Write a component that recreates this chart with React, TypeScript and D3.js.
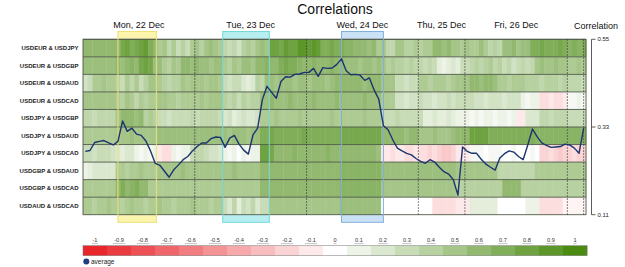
import React from "react";
import * as d3 from "d3";

// Currency pairs, one heatmap row each
const pairs = [
  "USDEUR & USDJPY",
  "USDEUR & USDGBP",
  "USDEUR & USDAUD",
  "USDEUR & USDCAD",
  "USDJPY & USDGBP",
  "USDJPY & USDAUD",
  "USDJPY & USDCAD",
  "USDGBP & USDAUD",
  "USDGBP & USDCAD",
  "USDAUD & USDCAD",
];

// Trading days, in hourly slots
const dayLabels = ["Mon, 22 Dec", "Tue, 23 Dec", "Wed, 24 Dec", "Thu, 25 Dec", "Fri, 26 Dec"];
const dayStart = [0, 24, 48, 72, 82];
const dayEnd = [24, 48, 72, 82, 104];
const slotCount = 108;

// Highlighted sessions (slot range)
const sessionStart = [7.5, 30, 55.5];
const sessionEnd = [15.75, 40, 64.5];

// Hourly correlations per pair
const eurJpy = [
  0.6, 0.6, 0.6, 0.6, 0.6, 0.6, 0.6, 0.6, 0.75, 0.8, 0.7, 0.75, 0.8, 0.85, 0.7, 0.6, 0.45, 0.5,
  0.35, 0.45, 0.3, 0.4, 0.3, 0.45, 0.5, 0.4, 0.5, 0.55, 0.5, 0.45, 0.35, 0.3, 0.35, 0.25, 0.4, 0.45,
  0.4, 0.5, 0.55, 0.5, 0.8, 0.8, 0.75, 0.85, 0.8, 0.8, 0.9, 0.9, 0.85, 0.9, 0.85, 0.7, 0.7, 0.75,
  0.7, 0.7, 0.65, 0.65, 0.6, 0.6, 0.6, 0.55, 0.6, 0.45, 0.5, 0.35, 0.35, 0.5, 0.5, 0.4, 0.4, 0.45,
  0.4, 0.45, 0.45, 0.6, 0.6, 0.55, 0.6, 0.5, 0.5, 0.45, 0.5, 0.45, 0.45, 0.55, 0.45, 0.35, 0.4, 0.35,
  0.55, 0.55, 0.6, 0.5, 0.55, 0.55, 0.7, 0.7, 0.75, 0.7, 0.7, 0.7, 0.75, 0.7, 0.65, 0.7, 0.65, 0.7,
];
const eurGbp = [
  0.55, 0.55, 0.55, 0.55, 0.55, 0.55, 0.55, 0.6, 0.55, 0.6, 0.65, 0.6, 0.75, 0.8, 0.75, 0.55, 0.55, 0.45,
  0.4, 0.5, 0.45, 0.6, 0.6, 0.55, 0.6, 0.55, 0.55, 0.5, 0.55, 0.55, 0.45, 0.4, 0.5, 0.45, 0.55, 0.55,
  0.5, 0.6, 0.6, 0.65, 0.6, 0.6, 0.7, 0.75, 0.7, 0.7, 0.65, 0.6, 0.6, 0.65, 0.6, 0.6, 0.6, 0.65,
  0.6, 0.6, 0.55, 0.55, 0.55, 0.5, 0.55, 0.55, 0.5, 0.55, 0.5, 0.4, 0.45, 0.4, 0.4, 0.35, 0.4, 0.35,
  0.35, 0.3, 0.35, 0.3, 0.15, 0.1, 0.15, 0.2, 0.15, 0.3, 0.3, 0.35, 0.4, 0.35, 0.4, 0.45, 0.35, 0.4,
  0.3, 0.35, 0.25, 0.3, 0.35, 0.3, 0.35, 0.5, 0.55, 0.5, 0.5, 0.55, 0.5, 0.5, 0.45, 0.45, 0.5, 0.45,
];
const eurAud = [
  0.25, 0.3, 0.45, 0.45, 0.5, 0.45, 0.45, 0.4, 0.3, 0.45, 0.35, 0.45, 0.3, 0.4, 0.5, 0.5, 0.45, 0.4,
  0.35, 0.4, 0.4, 0.5, 0.45, 0.5, 0.5, 0.5, 0.45, 0.5, 0.5, 0.45, 0.3, 0.25, 0.3, 0.3, 0.2, 0.15,
  0.2, 0.4, 0.35, 0.55, 0.55, 0.5, 0.55, 0.55, 0.55, 0.5, 0.55, 0.55, 0.5, 0.55, 0.55, 0.55, 0.5, 0.55,
  0.6, 0.6, 0.6, 0.6, 0.6, 0.6, 0.55, 0.6, 0.6, 0.6, 0.5, 0.5, 0.5, 0.3, 0.3, 0.25, 0.3, 0.3,
  0.45, 0.45, 0.4, 0.45, 0.45, 0.45, 0.4, 0.45, 0.5, 0.5, 0.5, 0.6, 0.6, 0.55, 0.6, 0.6, 0.55, 0.45,
  0.45, 0.4, 0.45, 0.45, 0.45, 0.4, 0.4, 0.4, 0.35, 0.4, 0.4, 0.4, 0.35, 0.4, 0.35, 0.35, 0.35, 0.3,
];
const eurCad = [
  0.5, 0.5, 0.5, 0.5, 0.5, 0.5, 0.5, 0.45, 0.4, 0.5, 0.45, 0.35, 0.45, 0.4, 0.45, 0.45, 0.5, 0.5,
  0.45, 0.45, 0.4, 0.45, 0.45, 0.45, 0.45, 0.5, 0.45, 0.5, 0.5, 0.5, 0.4, 0.35, 0.4, 0.3, 0.4, 0.35,
  0.4, 0.4, 0.55, 0.55, 0.6, 0.55, 0.55, 0.55, 0.6, 0.55, 0.55, 0.55, 0.55, 0.6, 0.55, 0.55, 0.55, 0.55,
  0.6, 0.55, 0.55, 0.55, 0.55, 0.55, 0.6, 0.55, 0.55, 0.55, 0.45, 0.45, 0.45, 0.25, 0.25, 0.2, 0.25, 0.25,
  0.3, 0.25, 0.25, 0.2, 0.25, 0.25, 0.3, 0.25, 0.3, 0.3, 0.3, 0.3, 0.25, 0.25, 0.2, 0.25, 0.25, 0.25,
  0.2, 0.25, 0.25, 0.25, 0.1, 0.05, 0.1, 0.1, -0.15, -0.15, -0.1, -0.15, -0.15, -0.1, 0.05, 0.05, 0.1, 0.05,
];
const jpyGbp = [
  0.35, 0.35, 0.3, 0.35, 0.35, 0.35, 0.35, 0.5, 0.6, 0.6, 0.6, 0.55, 0.6, 0.4, 0.45, 0.4, 0.3, 0.3,
  0.25, 0.3, 0.3, 0.3, 0.3, 0.35, 0.3, 0.35, 0.35, 0.35, 0.35, 0.3, 0.2, 0.25, 0.15, 0.2, 0.25, 0.2,
  0.2, 0.25, 0.45, 0.45, 0.45, 0.5, 0.45, 0.45, 0.45, 0.45, 0.5, 0.45, 0.45, 0.45, 0.45, 0.45, 0.45, 0.5,
  0.45, 0.45, 0.45, 0.45, 0.45, 0.45, 0.5, 0.45, 0.45, 0.45, 0.3, 0.3, 0.3, 0.35, 0.3, 0.3, 0.3, 0.3,
  0.3, 0.15, 0.15, 0.2, 0.15, 0.15, 0.2, 0.15, 0.1, 0.1, 0.1, 0.05, 0.1, 0.05, 0.1, 0.1, 0.05, 0.1,
  0.1, 0.05, 0.1, -0.1, -0.1, 0.2, 0.2, 0.2, 0.35, 0.35, 0.3, 0.35, 0.35, 0.35, 0.3, 0.3, 0.3, 0.3,
];
const jpyAud = [
  0.45, 0.45, 0.45, 0.45, 0.45, 0.45, 0.45, 0.5, 0.5, 0.5, 0.55, 0.5, 0.5, 0.5, 0.5, 0.5, 0.55, 0.55,
  0.55, 0.55, 0.55, 0.55, 0.55, 0.55, 0.55, 0.55, 0.55, 0.55, 0.55, 0.55, 0.55, 0.5, 0.55, 0.55, 0.55, 0.5,
  0.55, 0.55, 0.7, 0.7, 0.75, 0.7, 0.7, 0.7, 0.7, 0.7, 0.7, 0.75, 0.7, 0.7, 0.7, 0.7, 0.7, 0.7,
  0.7, 0.75, 0.75, 0.75, 0.75, 0.75, 0.75, 0.75, 0.75, 0.75, 0.6, 0.6, 0.6, 0.6, 0.6, 0.55, 0.6, 0.6,
  0.5, 0.5, 0.5, 0.55, 0.5, 0.5, 0.5, 0.55, 0.6, 0.6, 0.6, 0.8, 0.8, 0.8, 0.8, 0.7, 0.7, 0.7,
  0.7, 0.7, 0.7, 0.7, 0.7, 0.7, 0.7, 0.65, 0.65, 0.65, 0.65, 0.65, 0.65, 0.65, 0.65, 0.65, 0.65, 0.65,
];
const jpyCad = [
  0.3, 0.3, 0.25, 0.3, 0.3, 0.3, 0.25, 0.2, 0.15, 0.2, 0.2, 0.1, 0.05, 0.1, 0.05, 0.1, -0.1, -0.15,
  -0.15, 0.1, 0.05, 0.1, 0.1, 0.3, 0.35, 0.35, 0.3, 0.25, 0.25, 0.2, 0.1, 0.05, 0.1, 0.0, 0.1, 0.05,
  0.1, 0.1, 0.8, 0.8, 0.75, 0.6, 0.6, 0.6, 0.6, 0.65, 0.6, 0.6, 0.6, 0.6, 0.6, 0.6, 0.65, 0.6,
  0.6, 0.6, 0.6, 0.6, 0.6, 0.6, 0.6, 0.6, 0.6, 0.55, -0.1, -0.1, -0.15, -0.1, -0.1, -0.15, -0.15, -0.1,
  -0.15, -0.15, -0.2, -0.15, -0.2, -0.25, -0.25, -0.2, -0.1, -0.1, -0.1, 0.05, 0.05, 0.05, 0.0, 0.05, 0.05, 0.05,
  0.0, 0.0, 0.05, 0.0, 0.0, 0.0, 0.05, 0.0, -0.2, -0.2, -0.15, -0.2, -0.25, -0.2, -0.2, -0.15, -0.2, -0.2,
];
const gbpAud = [
  0.1, 0.15, 0.2, 0.2, 0.2, 0.2, 0.2, 0.45, 0.45, 0.4, 0.45, 0.45, 0.5, 0.45, 0.45, 0.45, 0.5, 0.5,
  0.5, 0.5, 0.5, 0.55, 0.5, 0.5, 0.5, 0.5, 0.5, 0.5, 0.5, 0.5, 0.5, 0.5, 0.55, 0.5, 0.5, 0.5,
  0.5, 0.5, 0.6, 0.6, 0.6, 0.6, 0.6, 0.6, 0.6, 0.6, 0.6, 0.6, 0.6, 0.6, 0.6, 0.6, 0.6, 0.6,
  0.6, 0.65, 0.65, 0.65, 0.65, 0.65, 0.65, 0.65, 0.65, 0.65, 0.55, 0.55, 0.55, 0.55, 0.55, 0.55, 0.55, 0.55,
  0.55, 0.55, 0.55, 0.55, 0.55, 0.55, 0.55, 0.55, 0.5, 0.5, 0.5, 0.5, 0.5, 0.5, 0.5, 0.5, 0.5, 0.35,
  0.35, 0.35, 0.35, 0.35, 0.35, 0.35, 0.35, 0.45, 0.45, 0.45, 0.45, 0.45, 0.45, 0.45, 0.45, 0.45, 0.45, 0.45,
];
const gbpCad = [
  0.45, 0.45, 0.45, 0.45, 0.45, 0.45, 0.45, 0.6, 0.7, 0.6, 0.65, 0.7, 0.6, 0.6, 0.45, 0.45, 0.45, 0.45,
  0.45, 0.45, 0.45, 0.45, 0.45, 0.45, 0.45, 0.45, 0.45, 0.45, 0.45, 0.45, 0.45, 0.45, 0.45, 0.45, 0.45, 0.45,
  0.45, 0.45, 0.6, 0.6, 0.6, 0.6, 0.6, 0.6, 0.6, 0.6, 0.6, 0.6, 0.6, 0.6, 0.6, 0.6, 0.6, 0.6,
  0.6, 0.65, 0.65, 0.65, 0.65, 0.65, 0.65, 0.65, 0.65, 0.65, 0.5, 0.5, 0.5, 0.5, 0.5, 0.5, 0.5, 0.5,
  0.5, 0.5, 0.5, 0.5, 0.5, 0.5, 0.5, 0.5, 0.4, 0.4, 0.4, 0.4, 0.4, 0.4, 0.4, 0.4, 0.4, 0.4,
  0.6, 0.6, 0.6, 0.6, 0.4, 0.4, 0.4, 0.4, 0.4, 0.4, 0.4, 0.4, 0.4, 0.4, 0.4, 0.4, 0.4, 0.4,
];
const audCad = [
  0.45, 0.45, 0.4, 0.45, 0.45, 0.5, 0.45, 0.45, 0.4, 0.45, 0.5, 0.45, 0.45, 0.4, 0.45, 0.45, 0.5, 0.45,
  0.45, 0.4, 0.45, 0.45, 0.45, 0.5, 0.45, 0.45, 0.45, 0.4, 0.45, 0.45, 0.3, 0.2, 0.35, 0.15, 0.3, 0.25,
  0.35, 0.2, 0.3, 0.3, 0.5, 0.5, 0.5, 0.5, 0.5, 0.5, 0.5, 0.5, 0.5, 0.5, 0.5, 0.5, 0.5, 0.5,
  0.5, 0.55, 0.55, 0.55, 0.55, 0.55, 0.55, 0.55, 0.55, 0.55, 0.0, 0.0, 0.0, 0.0, 0.0, 0.0, 0.0, 0.0,
  0.0, 0.0, 0.0, -0.15, -0.15, -0.15, -0.15, -0.15, -0.1, -0.1, -0.1, 0.15, 0.15, 0.15, 0.15, 0.15, 0.15, 0.0,
  0.0, 0.0, 0.0, 0.0, 0.0, 0.1, 0.1, 0.1, -0.15, -0.15, -0.15, -0.15, -0.15, -0.05, -0.05, -0.05, -0.05, -0.05,
];
const correlations = [eurJpy, eurGbp, eurAud, eurCad, jpyGbp, jpyAud, jpyCad, gbpAud, gbpCad, audCad];

// Average correlation per hour (right axis)
const average = [
  0.269, 0.271, 0.291, 0.294, 0.296, 0.29, 0.285, 0.294, 0.345, 0.319, 0.327, 0.312, 0.309, 0.295, 0.27, 0.239, 0.234, 0.219,
  0.204, 0.223, 0.235, 0.248, 0.256, 0.27, 0.281, 0.29, 0.29, 0.301, 0.305, 0.304, 0.279, 0.302, 0.309, 0.287, 0.272, 0.262,
  0.31, 0.327, 0.398, 0.432, 0.417, 0.402, 0.444, 0.456, 0.455, 0.462, 0.463, 0.467, 0.467, 0.477, 0.457, 0.479, 0.477, 0.478,
  0.487, 0.501, 0.471, 0.461, 0.462, 0.46, 0.447, 0.453, 0.423, 0.4, 0.333, 0.323, 0.298, 0.277, 0.27, 0.264, 0.26, 0.251,
  0.244, 0.239, 0.248, 0.242, 0.229, 0.218, 0.212, 0.198, 0.159, 0.28, 0.269, 0.264, 0.264, 0.249, 0.237, 0.229, 0.222, 0.252,
  0.263, 0.27, 0.267, 0.256, 0.248, 0.285, 0.325, 0.306, 0.29, 0.284, 0.279, 0.28, 0.281, 0.287, 0.285, 0.277, 0.264, 0.327,
];
const averageTicks = [0.11, 0.33, 0.55];
const legendValues = [-1, -0.9, -0.8, -0.7, -0.6, -0.5, -0.4, -0.3, -0.2, -0.1, 0, 0.1, 0.2, 0.3, 0.4, 0.5, 0.6, 0.7, 0.8, 0.9, 1];

const FONT = "'Liberation Sans', Arial, Helvetica, sans-serif";
const sessionFill = ["#fbf4ad", "#b7eef0", "#cbe2f6"];
const sessionStroke = ["#ece079", "#74d8d8", "#80b0da"];

export default function App() {
  const width = 625;
  const height = 267;
  const left = 83;
  const right = 586;
  const top = 39.3;
  const bottom = 214.7;

  const x = d3.scaleLinear().domain([0, slotCount]).range([left, right]);
  const rowY = d3.scaleBand<string>().domain(pairs).range([top, bottom]);
  const y = d3.scaleLinear().domain([0.11, 0.55]).range([bottom, top]);
  const color = d3
    .scaleLinear<string>()
    .domain([-1, 0, 1])
    .range(["#e8262b", "#ffffff", "#4b8b12"])
    .interpolate(d3.interpolateRgb);

  const line = d3
    .line<number>()
    .x((_, i) => x(i + 0.5))
    .y((d) => y(d));

  const legendX = d3
    .scaleBand<number>()
    .domain(legendValues)
    .range([83, 587]);

  const axisX = 591.5;
  const markers = [...dayStart.slice(1), dayEnd[dayEnd.length - 1], slotCount - 0.5];

  return (
    <svg
      width={width}
      height={height}
      style={{ position: "absolute", left: 0, top: 0, background: "#fff" }}
      fontFamily={FONT}
    >
      <text x={335} y={13.5} fontSize={14} textAnchor="middle" fill="#111">
        Correlations
      </text>

      {/* session bands (behind the heatmap) */}
      {sessionStart.map((s, i) => (
        <rect
          key={"sf" + i}
          x={x(s)}
          y={31.5}
          width={x(sessionEnd[i]) - x(s)}
          height={222.3 - 31.5}
          fill={sessionFill[i]}
        />
      ))}

      {/* heatmap cells */}
      {correlations.map((row, r) =>
        row.map((v, c) => (
          <rect
            key={r + "-" + c}
            x={x(c)}
            y={rowY(pairs[r])}
            width={x(c + 1) - x(c) + 0.4}
            height={rowY.bandwidth()}
            fill={color(v)}
          />
        ))
      )}

      {/* row separators */}
      {pairs.map((p, i) => (
        <line
          key={"sep" + i}
          x1={left}
          x2={right}
          y1={rowY(p)}
          y2={rowY(p)}
          stroke="#4f5a48"
          strokeWidth={0.9}
        />
      ))}
      <rect x={left} y={top} width={right - left} height={bottom - top} fill="none" stroke="#4f5a48" strokeWidth={0.9} />

      {/* day boundaries */}
      {markers.map((m, i) => (
        <line
          key={"dm" + i}
          x1={x(m)}
          x2={x(m)}
          y1={top}
          y2={bottom}
          stroke="#333"
          strokeWidth={0.8}
          strokeDasharray="1.5,1.5"
        />
      ))}

      {/* session outlines */}
      {sessionStart.map((s, i) => (
        <rect
          key={"ss" + i}
          x={x(s)}
          y={31.5}
          width={x(sessionEnd[i]) - x(s)}
          height={222.3 - 31.5}
          fill="none"
          stroke={sessionStroke[i]}
          strokeWidth={1}
        />
      ))}

      {/* day labels */}
      {dayLabels.map((d, i) => (
        <text
          key={"day" + i}
          x={(x(dayStart[i]) + x(dayEnd[i])) / 2}
          y={27.5}
          fontSize={9}
          textAnchor="middle"
          fill="#111"
        >
          {d}
        </text>
      ))}

      {/* row labels */}
      {pairs.map((p) => (
        <text
          key={"lab" + p}
          x={78.5}
          y={(rowY(p) as number) + rowY.bandwidth() / 2}
          fontSize={6}
          textAnchor="end"
          dominantBaseline="central"
          fill="#222"
          fontWeight={600}
        >
          {p}
        </text>
      ))}

      {/* average line */}
      <path d={line(average) || ""} fill="none" stroke="#1c3470" strokeWidth={1.4} strokeLinejoin="round" />

      {/* right axis */}
      <text x={596} y={29} fontSize={9} textAnchor="middle" fill="#111">
        Correlation
      </text>
      <line x1={axisX} x2={axisX} y1={y(0.55)} y2={y(0.11)} stroke="#333" strokeWidth={0.8} />
      {averageTicks.map((t) => (
        <g key={"t" + t}>
          <line x1={axisX} x2={axisX + 4} y1={y(t)} y2={y(t)} stroke="#333" strokeWidth={0.8} />
          <text x={axisX + 6} y={y(t)} fontSize={6} dominantBaseline="central" fill="#222">
            {t.toFixed(2)}
          </text>
        </g>
      ))}

      {/* colour legend */}
      {legendValues.map((v) => {
        const lx = legendX(v) as number;
        const bw = legendX.bandwidth();
        const label = String(v);
        const tw = label.length * 3.1;
        return (
          <g key={"lg" + v}>
            <rect x={lx} y={245.7} width={bw + 0.3} height={10} fill={color(v)} />
            <text x={lx + bw / 2} y={242.3} fontSize={5.6} textAnchor="middle" fill="#333">
              {label}
            </text>
            <line x1={lx + bw / 2 - tw / 2} x2={lx + bw / 2 + tw / 2} y1={243.6} y2={243.6} stroke="#888" strokeWidth={0.5} />
          </g>
        );
      })}
      <rect x={83} y={245.7} width={504} height={10} fill="none" stroke="#777" strokeWidth={0.5} />

      <circle cx={86.3} cy={261.5} r={3} fill="#1f3f80" />
      <text x={91} y={261.5} fontSize={6.5} dominantBaseline="central" fill="#222">
        average
      </text>
    </svg>
  );
}
